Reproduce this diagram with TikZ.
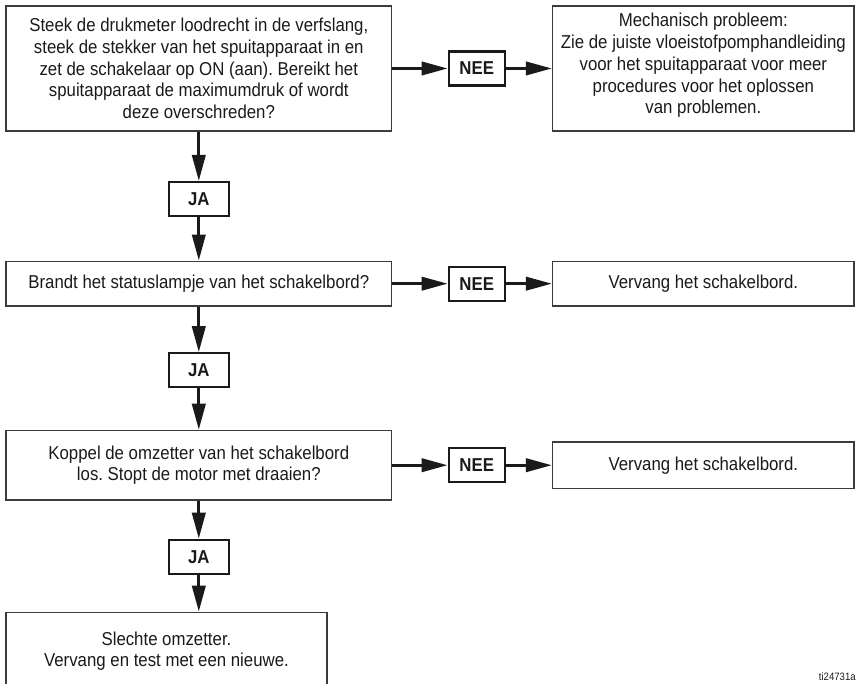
\documentclass[tikz,border=0pt]{standalone}
\usepackage{fontspec}
\setmainfont{Liberation Sans}[FakeStretch=0.9]
\usetikzlibrary{positioning,arrows.meta}
\definecolor{ink}{HTML}{1A1A1A}
\definecolor{rim}{HTML}{3C3C3C}
\frenchspacing

\begin{document}
\begin{tikzpicture}[
  font=\fontsize{14pt}{16.3pt}\selectfont,
  node distance=32pt and 42pt,
  box/.style={draw=rim,line width=1.2pt,align=center,inner sep=2pt,text=ink},
  qbox/.style={box,minimum width=289pt},
  rbox/.style={box,minimum width=226pt},
  tag/.style={draw=ink,line width=1.7pt,minimum height=25.5pt,inner sep=1pt,
              font=\fontsize{14pt}{14pt}\selectfont\bfseries,text=ink},
  nee/.style={tag,minimum width=42pt},
  ja/.style={tag,minimum width=45pt},
  flow/.style={-{Triangle[length=19.5pt,width=10pt]},line width=2.2pt,draw=ink},
]
\useasboundingbox (0,0) rectangle (645.75pt,-512.25pt);

% ------------------------------------------------------------- question 1
\node[qbox, minimum height=93.5pt, anchor=north west] (q1) at (4pt,-4pt)
  {Steek de drukmeter loodrecht in de verfslang,\\
   steek de stekker van het spuitapparaat in en\\
   zet de schakelaar op ON (aan). Bereikt het\\
   spuitapparaat de maximumdruk of wordt\\
   deze overschreden?};
\node[nee, right=41.5pt of q1]               (n1) {NEE};
\node[rbox, minimum height=93.5pt, right=34.5pt of n1] (r1)
  {Mechanisch probleem:\\
   Zie de juiste vloeistofpomphandleiding\\
   voor het spuitapparaat voor meer\\
   procedures voor het oplossen\\
   van problemen.\\[-9pt]\mbox{}};
\node[ja, below=37pt of q1]                  (j1) {JA};

% ------------------------------------------------------------- question 2
\node[qbox, minimum height=33.5pt, below=32.5pt of j1] (q2)
  {Brandt het statuslampje van het schakelbord?};
\node[nee, right=41.5pt of q2]               (n2) {NEE};
\node[rbox, minimum height=33.5pt, right=34.5pt of n2] (r2)
  {Vervang het schakelbord.};
\node[ja, below=34pt of q2]                  (j2) {JA};

% ------------------------------------------------------------- question 3
\node[qbox, minimum height=52pt, below=31pt of j2] (q3)
  {Koppel de omzetter van het schakelbord\\
   los. Stopt de motor met draaien?};
\node[nee, right=41.5pt of q3]               (n3) {NEE};
\node[rbox, minimum height=35pt, right=34.5pt of n3] (r3)
  {Vervang het schakelbord.};
\node[ja, below=28.5pt of q3]                (j3) {JA};

% ---------------------------------------------------------------- result
\node[box, minimum width=240.5pt, minimum height=58pt, anchor=north west]
  (q4) at ([yshift=-27.5pt]j3.south -| q3.west)
  {Slechte omzetter.\\
   Vervang en test met een nieuwe.};

\foreach \i/\j in {q1/n1,n1/r1,q2/n2,n2/r2,q3/n3,n3/r3} \draw[flow] (\i) -- (\j);
\foreach \i/\j in {q1/j1,j1/q2,q2/j2,j2/q3,q3/j3} \draw[flow] (\i) -- (\j);
\draw[flow] (j3.south) -- (j3.south |- q4.north);

\node[anchor=south east, inner sep=0pt, font=\fontsize{8pt}{8pt}\selectfont, text=ink]
  (id) at (642pt,-511pt) {ti24731a};
\end{tikzpicture}
\end{document}
